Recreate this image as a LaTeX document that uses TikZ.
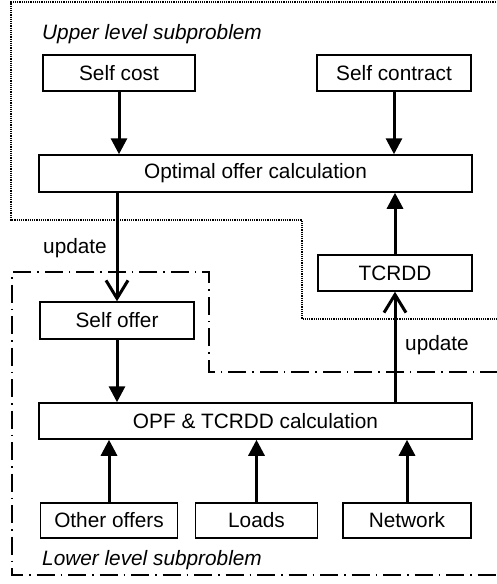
\documentclass[tikz,border=0pt]{standalone}
\usepackage{fontspec}
\setmainfont{Liberation Sans}
\usetikzlibrary{arrows.meta}
\begin{document}
\begin{tikzpicture}[x=1pt,y=-1pt,
  box/.style={draw,line width=1.5pt,rectangle,inner sep=0pt,font=\fontsize{20.8}{24}\selectfont},
  lbl/.style={inner sep=0pt,font=\fontsize{20.8}{24}\selectfont},
  flow/.style={line width=3pt,-{Triangle[length=16pt,width=16pt]}},
  upd/.style={line width=3pt,-{Straight Barb[length=18pt,width=22pt]}},
  dotline/.style={line width=1.4pt,dash pattern=on 1.2pt off 1pt},
  dashdotline/.style={line width=1.4pt,dash pattern=on 18pt off 6pt on 1.5pt off 6pt}]
\useasboundingbox (0,0) rectangle (497,584);
% region borders
\draw[dotline] (498,2) -- (11,2) -- (11,220) -- (302,220) -- (302,319) -- (498,319);
\draw[dashdotline] (498,372) -- (209,372) -- (209,272) -- (12,272) -- (12,575) -- (498,575);
% nodes
\node[box,minimum width=152pt,minimum height=36pt] (sc) at (119,73) {Self cost};
\node[box,minimum width=154pt,minimum height=36pt] (sk) at (394,73) {Self contract};
\node[box,minimum width=433pt,minimum height=37pt] (oo) at (255.5,173.5) {Optimal offer calculation};
\node[box,minimum width=154pt,minimum height=37pt] (so) at (117,320.5) {Self offer};
\node[box,minimum width=154pt,minimum height=36pt] (td) at (395,273) {TCRDD};
\node[box,minimum width=433pt,minimum height=36pt] (opf) at (255.5,421) {OPF \& TCRDD calculation};
\node[box,minimum width=137pt,minimum height=35pt] (oth) at (109,520.5) {Other offers};
\node[box,minimum width=122pt,minimum height=35pt] (ld) at (256.5,520.5) {Loads};
\node[box,minimum width=128pt,minimum height=35pt] (nw) at (407,520.5) {Network};
% labels
\node[lbl,anchor=base west] (ul) at (42,39) {\itshape Upper level subproblem};
\node[lbl,anchor=base west] (ll) at (42,565) {\itshape Lower level subproblem};
\node[lbl,anchor=base west] (u1) at (43,253) {update};
\node[lbl,anchor=base west] (u2) at (405,350) {update};
% connectors
\draw[flow] (sc.south) -- (sc.south |- oo.north);
\draw[flow] (sk.south) -- (sk.south |- oo.north);
\draw[upd] (so.north |- oo.south) -- (so.north);
\draw[flow] (so.south) -- (so.south |- opf.north);
\draw[flow] (td.north) -- (td.north |- oo.south);
\draw[upd] (td.south |- opf.north) -- (td.south);
\draw[flow] (oth.north) -- (oth.north |- opf.south);
\draw[flow] (ld.north) -- (ld.north |- opf.south);
\draw[flow] (nw.north) -- (nw.north |- opf.south);
\end{tikzpicture}
\end{document}
